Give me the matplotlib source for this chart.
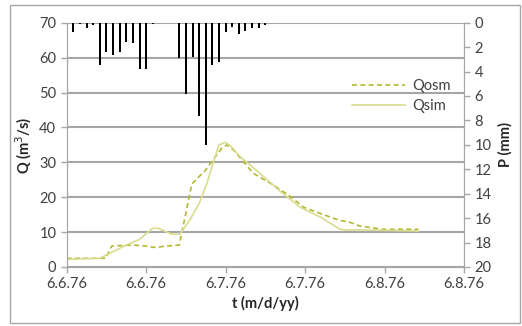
import numpy as np
import matplotlib.pyplot as plt
import matplotlib.patches as patches

plt.rcParams['font.family'] = ['Lato', 'DejaVu Sans']

# Niederschlag (stündlich, mm)
p_hours = list(range(0, 14)) + list(range(17, 31))
p_mm = [0.1, 0.75, 0.1, 0.4, 0.2, 3.5, 2.4, 2.65, 2.4, 1.55, 1.65, 3.8, 3.8, 0.1,
        2.9, 5.8, 2.8, 7.6, 10.0, 3.5, 3.25, 0.75, 0.35, 0.95, 0.65, 0.4, 0.4, 0.15]

# Abfluss beobachtet
osm_t = [0, 5.9, 6.8, 10, 12, 13.3, 15, 17, 18.9, 20.9, 22.1, 23.4, 24.2, 25.2,
         28.2, 31.2, 33.7, 35.8, 38.2, 41.3, 42.5, 44.3, 47.8, 53.1]
osm_q = [2.5, 2.5, 6.0, 6.3, 6.0, 5.6, 6.0, 6.3, 23.8, 27.6, 30.7, 34.0, 35.0, 33.5,
         26.8, 23.5, 20.3, 17.1, 15.4, 13.3, 13.0, 11.7, 10.8, 10.8]

# Abfluss simuliert
sim_t = [0, 5, 7, 9, 11, 12, 13, 13.8, 15, 15.9, 17.1, 18.6, 20.0, 21.1, 22.1, 23.0,
         23.9, 24.7, 26.2, 29.2, 32.3, 35.3, 38.2, 41.3, 42.3, 45.3, 53.1]
sim_q = [2.2, 2.5, 4.4, 6.3, 7.9, 9.6, 11.1, 11.1, 10.1, 9.4, 9.4, 13.5, 18.2, 23.5,
         29.7, 35.0, 35.7, 34.8, 31.6, 26.8, 21.6, 17.1, 14.4, 10.8, 10.6, 10.6, 10.3]

x_ticks = [0, 12, 24, 36, 48, 60]
x_labels = ['6.6.76', '6.6.76', '6.7.76', '6.7.76', '6.8.76', '6.8.76']

fig = plt.figure(figsize=(5.22, 3.26), dpi=100)
fig.patches.append(patches.Rectangle((10 / 522, 3 / 326), 510 / 522, 318 / 326,
                                     transform=fig.transFigure, fill=False,
                                     edgecolor='#a6a6a6', linewidth=1))
ax = fig.add_axes([66.7 / 522, 1 - 267 / 326, (464 - 66.7) / 522, (267 - 22.7) / 326])
ax2 = ax.twinx()

gray = '#a6a6a6'
ax.set_xlim(0, 60)
ax.set_ylim(0, 70)
ax.set_yticks(range(0, 71, 10))
ax.set_xticks(x_ticks)
ax.set_xticklabels(x_labels)
ax.grid(axis='y', color=gray, linewidth=1.5)
ax.set_axisbelow(True)

ax.plot(osm_t, osm_q, color='#b4b82e', linewidth=1.2, linestyle=(0, (3, 2)), label='Qosm')
ax.plot(sim_t, sim_q, color='#d9db8f', linewidth=1.2, label='Qsim')

ax2.bar(p_hours, p_mm, width=0.3, color='black', align='center')
ax2.set_ylim(20, 0)
ax2.set_yticks(range(0, 21, 2))

for a in (ax, ax2):
    for s in a.spines.values():
        s.set_color(gray)
    a.spines['top'].set_visible(False)
    a.tick_params(colors=gray, labelcolor='#404040', labelsize=10.5, length=4, width=1)

ax.set_xlabel('t (m/d/yy)', fontweight='bold', fontsize=10.5, color='#262626', labelpad=3)
ax.set_ylabel('Q (m$^3$/s)', fontweight='bold', fontsize=10.5, color='#262626', labelpad=4)
ax2.set_ylabel('P (mm)', fontweight='bold', fontsize=10.5, color='#262626', labelpad=5)

ax.legend(loc='upper left', bbox_to_anchor=(0.70, 0.80), frameon=False, fontsize=10.5,
          handlelength=3.6, handletextpad=0.55, labelspacing=0.45, borderpad=0,
          labelcolor='#404040')

fig.savefig('out.png', dpi=100)
